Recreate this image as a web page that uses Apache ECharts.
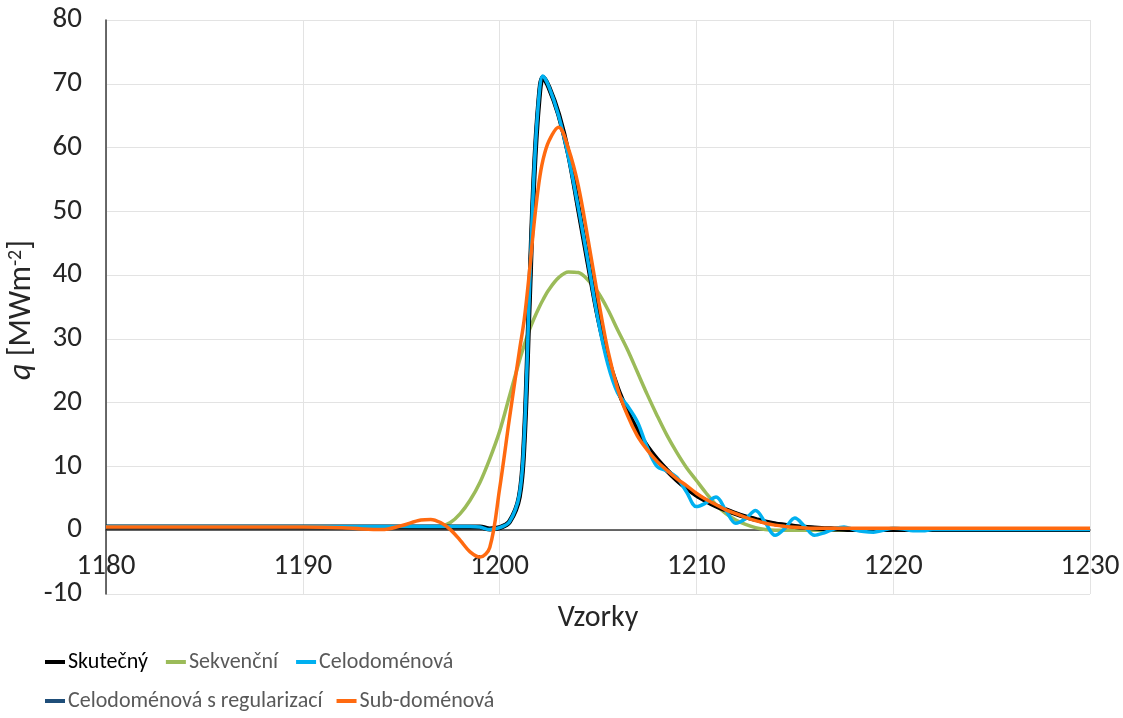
<!DOCTYPE html>
<html>
<head>
<meta charset="utf-8">
<script src="https://cdn.jsdelivr.net/npm/echarts@6/dist/echarts.min.js"></script>
<style>
html,body{margin:0;padding:0;background:#fff;}
#chart{width:1123px;height:718px;}
</style>
</head>
<body>
<div id="chart"></div>
<script>
// sample positions (x axis, "Vzorky")
const sampleX = [1180,1185,1190,1192,1193,1194,1195,1196,1196.5,1197,1197.5,1198,1198.5,1199,1199.5,1200,1200.5,1201,1201.25,1201.5,1201.75,1202,1202.2,1202.5,1203,1203.5,1204,1204.5,1205,1205.5,1206,1206.5,1207,1207.5,1208,1208.5,1209,1209.5,1210,1210.5,1211,1211.5,1212,1212.5,1213,1213.5,1214,1214.5,1215,1215.5,1216,1216.5,1217,1217.5,1218,1218.5,1219,1219.5,1220,1220.5,1221,1221.5,1222,1223,1225,1230];

const seriesNames = ['Skutečný','Sekvenční','Celodoménová','Celodoménová s regularizací','Sub-doménová'];

const skutecny = [0.5,0.5,0.5,0.5,0.5,0.5,0.5,0.5,0.5,0.5,0.5,0.5,0.5,0.5,0.2,0.4,1.3,5.2,14,35,55.5,67.5,71,69.5,65.2,59,50.5,41.8,33.5,27,22.2,18.6,15.6,13.1,11.1,9.4,7.9,6.6,5.5,4.6,3.8,3.2,2.6,2.1,1.7,1.3,1.0,0.8,0.6,0.45,0.35,0.25,0.2,0.15,0.1,0.1,0.1,0.1,0.1,0.1,0.1,0.1,0.1,0.1,0.1,0.1];

const sekvencni = [0.5,0.5,0.5,0.5,0.5,0.5,0.5,0.5,0.5,0.6,1.2,2.6,4.7,7.5,11.2,15.5,21,26.5,29,31.3,33.2,34.9,36.1,37.7,39.6,40.5,40.4,39.2,37.3,34.6,31.4,28.3,24.8,21.3,18,14.9,12.2,9.8,7.8,5.8,4.0,2.6,1.6,0.9,0.4,0.1,0,0,0,0,0,0,0,0,0,0,0,0,0,0,0,0,0,0,0,0];

const celodomenova = [0.6,0.6,0.6,0.6,0.6,0.6,0.6,0.6,0.6,0.6,0.6,0.6,0.6,0.5,0.1,0.4,1.3,5.5,14.5,36,56,68,71.2,69.6,65,58.5,50.6,42,33,26,21.5,19.5,17,13,10,9.3,8.3,6,3.7,4.3,5.2,3.1,1.1,1.8,3.1,1.2,-0.8,0.3,1.9,0.6,-0.8,-0.4,0.2,0.5,0.1,-0.2,-0.3,0,0.3,0.2,-0.1,-0.1,0.1,0.1,0.1,0.1];

const celodomenovaReg = [0.5,0.5,0.5,0.5,0.5,0.5,0.5,0.5,0.5,0.5,0.5,0.5,0.5,0.5,0.2,0.4,1.3,5.3,14.2,35.5,55.8,67.8,71.1,69.5,65.1,58.8,50.5,41.9,33.3,26.8,22,18.5,15.6,13.1,11.1,9.4,7.9,6.6,5.5,4.6,3.8,3.2,2.6,2.1,1.7,1.3,1.0,0.8,0.6,0.45,0.35,0.25,0.2,0.15,0.1,0.1,0.1,0.1,0.1,0.1,0.1,0.1,0.1,0.1,0.1,0.1];

const subdomenova = [0.5,0.5,0.5,0.4,0.2,0.1,0.7,1.6,1.7,1.2,0.1,-1.6,-3.4,-4.2,-2.7,6.5,17.5,28,33,40,48,54.5,58,61,63.2,59.8,54,45.5,36.5,28.2,22.2,18,14.8,12.6,10.8,9.4,8.1,7.0,5.8,4.8,4.0,3.2,2.6,2.0,1.5,1.1,0.8,0.6,0.45,0.35,0.3,0.3,0.3,0.3,0.3,0.3,0.3,0.3,0.3,0.3,0.3,0.3,0.3,0.3,0.3,0.3];

const xTicks = {min:1180, max:1230, step:10};
const yTicks = {min:-10, max:80, step:10};

const FONT = "Carlito, Lato, 'Open Sans', sans-serif";
const colors = {
  'Skutečný':'#000000',
  'Sekvenční':'#9BBB59',
  'Celodoménová':'#00B0F0',
  'Celodoménová s regularizací':'#1F4E79',
  'Sub-doménová':'#FF6A10'
};
const widths = {
  'Skutečný':5,
  'Sekvenční':3.5,
  'Celodoménová':3.5,
  'Celodoménová s regularizací':4,
  'Sub-doménová':3.5
};
const values = {
  'Skutečný':skutecny,
  'Sekvenční':sekvencni,
  'Celodoménová':celodomenova,
  'Celodoménová s regularizací':celodomenovaReg,
  'Sub-doménová':subdomenova
};
// drawing order (bottom to top)
const drawOrder = ['Celodoménová s regularizací','Sekvenční','Skutečný','Celodoménová','Sub-doménová'];

function mkSeries(name){
  return {
    name: name,
    type: 'line',
    smooth: 0.35,
    showSymbol: false,
    symbol: 'none',
    animation: false,
    lineStyle: {color: colors[name], width: widths[name]},
    itemStyle: {color: colors[name]},
    data: sampleX.map((x,i)=>[x, values[name][i]])
  };
}

function legendItem(name){
  return {name: name, textStyle: {color: name === 'Skutečný' ? '#000' : '#595959'}};
}

const chart = echarts.init(document.getElementById('chart'), null, {renderer:'canvas'});
chart.setOption({
  animation: false,
  backgroundColor: '#ffffff',
  textStyle: {fontFamily: FONT},
  grid: {left: 106, right: 33, top: 20, bottom: 124, containLabel: false},
  xAxis: {
    type: 'value',
    min: xTicks.min, max: xTicks.max, interval: xTicks.step,
    name: 'Vzorky',
    nameLocation: 'middle',
    nameGap: 9,
    nameTextStyle: {fontSize: 30, color: '#262626', fontFamily: FONT},
    axisLine: {show: true, onZero: true, lineStyle: {color: '#3a3a3a', width: 1.5}},
    axisTick: {show: false},
    axisLabel: {fontSize: 29, color: '#262626', margin: -42, fontFamily: FONT, showMinLabel: true, showMaxLabel: true,
      formatter: function(v){ return String(v); }},
    splitLine: {show: true, lineStyle: {color: '#e3e3e3', width: 1}}
  },
  yAxis: {
    type: 'value',
    min: yTicks.min, max: yTicks.max, interval: yTicks.step,
    axisLine: {show: true, onZero: false, lineStyle: {color: '#3a3a3a', width: 1.5}},
    axisTick: {show: false},
    axisLabel: {fontSize: 29, color: '#262626', margin: 24, fontFamily: FONT},
    splitLine: {show: true, lineStyle: {color: '#e3e3e3', width: 1}}
  },
  graphic: [{
    type: 'text',
    x: 22, y: 310,
    rotation: Math.PI/2,
    style: {
      text: '{it|q} [MWm{sup|-2}]',
      align: 'center',
      verticalAlign: 'middle',
      fill: '#262626',
      font: "32px " + FONT,
      rich: {
        it: {fontStyle: 'italic', fontSize: 32, fontFamily: FONT, fill: '#262626'},
        sup: {fontSize: 20, fontFamily: FONT, fill: '#262626', verticalAlign: 'top', padding: [0,0,12,0]}
      }
    }
  }],
  legend: [{
    left: 45, top: 651, padding: 0,
    itemWidth: 20, itemHeight: 4, itemGap: 18,
    icon: 'rect',
    textStyle: {fontSize: 22, fontFamily: FONT, color: '#595959', padding: [0,0,0,-2]},
    data: ['Skutečný','Sekvenční','Celodoménová'].map(legendItem)
  },{
    left: 45, top: 690, padding: 0,
    itemWidth: 20, itemHeight: 4, itemGap: 14,
    icon: 'rect',
    textStyle: {fontSize: 22, fontFamily: FONT, color: '#595959', padding: [0,0,0,-2]},
    data: ['Celodoménová s regularizací','Sub-doménová'].map(legendItem)
  }],
  series: drawOrder.map(mkSeries)
});
</script>
</body>
</html>
